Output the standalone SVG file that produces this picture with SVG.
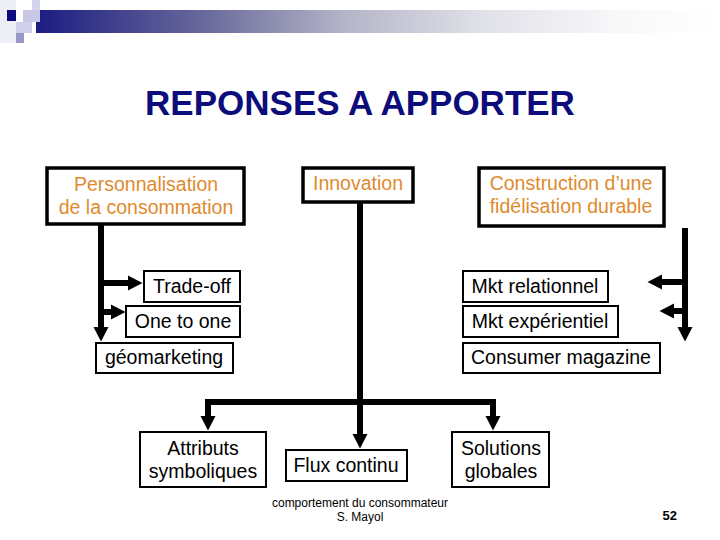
<svg xmlns="http://www.w3.org/2000/svg" width="720" height="540" viewBox="0 0 720 540">
  <style>
    .t{font-family:"Liberation Sans",Arial,sans-serif;font-size:19.5px;text-anchor:middle;fill:#000}
    .o{fill:#df8a2e}
    .top{fill:#fff;stroke:#000;stroke-width:3.5}
    .box{fill:#fff;stroke:#000;stroke-width:2}
    .c{fill:none;stroke:#000;stroke-width:6;stroke-linejoin:miter}
    .ar{marker-end:url(#ah)}
  </style>
  <defs>
    <linearGradient id="bar" gradientUnits="userSpaceOnUse" x1="36" y1="0" x2="720" y2="0">
      <stop offset="0" stop-color="#1c1c82"/>
      <stop offset="0.25" stop-color="#6a6a9c"/>
      <stop offset="0.45" stop-color="#b4b4c8"/>
      <stop offset="0.65" stop-color="#e0e0e8"/>
      <stop offset="0.85" stop-color="#f8f8fa"/>
      <stop offset="1" stop-color="#ffffff"/>
    </linearGradient>
    <marker id="ah" markerUnits="userSpaceOnUse" markerWidth="16" markerHeight="16" viewBox="0 -8 16 16" refX="0" refY="0" orient="auto">
      <path d="M0,-7.5 L14.5,0 L0,7.5 z" fill="#000"/>
    </marker>
  </defs>

  <g id="header">
    <rect x="0" y="0" width="16" height="43" fill="#eeeef6"/>
    <rect x="36" y="10" width="684" height="23" fill="url(#bar)"/>
    <rect x="7" y="10" width="9" height="11" fill="#0c0c80"/>
    <rect x="23" y="10" width="17" height="12" fill="#c8c8e4"/>
    <rect x="32" y="0" width="8" height="10" fill="#d4d4ec"/>
    <rect x="16" y="22" width="16" height="11" fill="#d0d0ec"/>
    <rect x="16" y="33" width="8" height="10" fill="#9898c8"/>
  </g>

  <text id="title" x="360" y="115" style="font-family:'Liberation Sans',Arial,sans-serif;font-size:35px;font-weight:bold;fill:#0c0c7a;text-anchor:middle">REPONSES A APPORTER</text>

  <g id="connectors">
    <path class="c ar" d="M101,225 V327"/>
    <path class="c ar" d="M101,283 H128"/>
    <path class="c ar" d="M101,312 H111"/>
    <path class="c ar" d="M685,228 V327"/>
    <path class="c ar" d="M685,282 H662"/>
    <path class="c ar" d="M685,311 H674"/>
    <path class="c ar" d="M360,203 V434"/>
    <path class="c ar" d="M360,402 H208 V416"/>
    <path class="c ar" d="M360,402 H493 V416"/>
  </g>

  <g id="personnalisation">
    <rect class="top" x="47" y="168" width="197" height="56"/>
    <text class="t o" x="146" y="191">Personnalisation</text>
    <text class="t o" x="146" y="214">de la consommation</text>
  </g>
  <g id="innovation">
    <rect class="top" x="303" y="168" width="110" height="34"/>
    <text class="t o" x="358" y="190">Innovation</text>
  </g>
  <g id="construction">
    <rect class="top" x="479" y="168" width="185" height="58"/>
    <text class="t o" x="571" y="190">Construction d’une</text>
    <text class="t o" x="571" y="213">fidélisation durable</text>
  </g>

  <g id="tradeoff">
    <rect class="box" x="144" y="271" width="96" height="31"/>
    <text class="t" x="192" y="293">Trade-off</text>
  </g>
  <g id="onetoone">
    <rect class="box" x="126" y="306" width="114" height="31"/>
    <text class="t" x="183" y="328">One to one</text>
  </g>
  <g id="geomarketing">
    <rect class="box" x="96" y="343" width="137" height="30"/>
    <text class="t" x="164" y="364">géomarketing</text>
  </g>

  <g id="mktrelationnel">
    <rect class="box" x="463" y="271" width="145" height="31"/>
    <text class="t" x="535" y="293">Mkt relationnel</text>
  </g>
  <g id="mktexperientiel">
    <rect class="box" x="463" y="306" width="155" height="31"/>
    <text class="t" x="540" y="328">Mkt expérientiel</text>
  </g>
  <g id="consumermagazine">
    <rect class="box" x="463" y="343" width="197" height="30"/>
    <text class="t" x="561" y="364">Consumer magazine</text>
  </g>

  <g id="attributs">
    <rect class="box" x="140" y="432" width="126" height="55"/>
    <text class="t" x="203" y="455">Attributs</text>
    <text class="t" x="203" y="478">symboliques</text>
  </g>
  <g id="fluxcontinu">
    <rect class="box" x="286" y="450" width="121" height="31"/>
    <text class="t" x="346" y="472">Flux continu</text>
  </g>
  <g id="solutions">
    <rect class="box" x="452" y="432" width="97" height="55"/>
    <text class="t" x="501" y="455">Solutions</text>
    <text class="t" x="501" y="478">globales</text>
  </g>

  <g id="footer">
    <text x="360" y="507" style="font-family:'Liberation Sans',Arial,sans-serif;font-size:12px;text-anchor:middle">comportement du consommateur</text>
    <text x="360" y="521" style="font-family:'Liberation Sans',Arial,sans-serif;font-size:12px;text-anchor:middle">S. Mayol</text>
    <text x="677" y="520" style="font-family:'Liberation Sans',Arial,sans-serif;font-size:13px;font-weight:bold;text-anchor:end">52</text>
  </g>
</svg>
